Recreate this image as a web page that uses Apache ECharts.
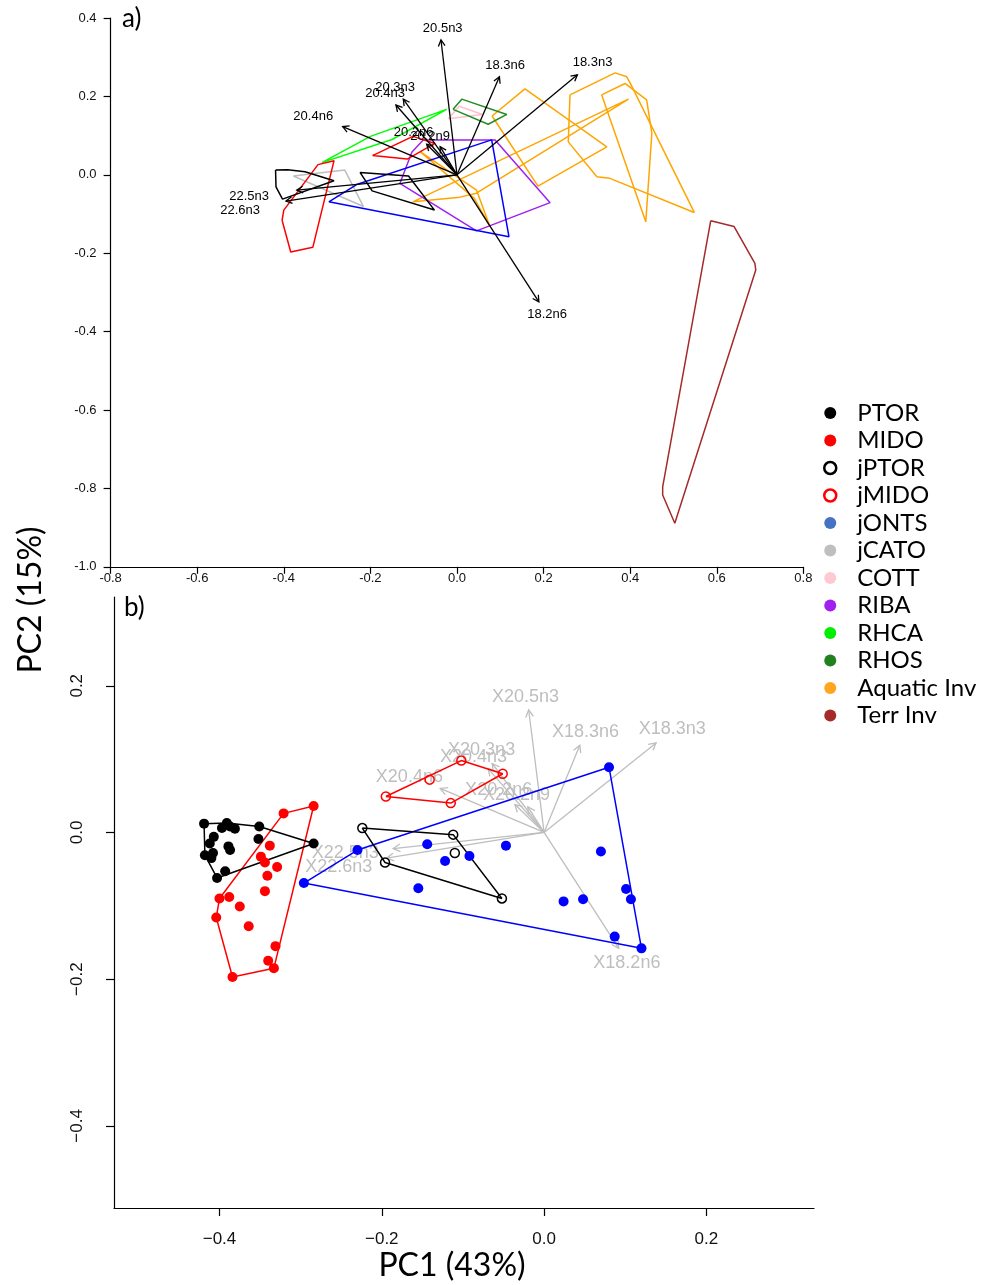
<!DOCTYPE html>
<html>
<head>
<meta charset="utf-8">
<script src="https://cdn.jsdelivr.net/npm/echarts@6/dist/echarts.min.js"></script>
<style>
html,body{margin:0;padding:0;background:#fff}
#chart{width:982px;height:1285px}
</style>
</head>
<body>
<div id="chart"></div>
<script>
// ---- fatty-acid loadings: arrow tips and label anchors ----
const loadingNamesA = ['20.5n3','18.3n6','18.3n3','20.3n3','20.4n3','20.4n6','20.2n6','20.2n9','22.5n3','22.6n3','18.2n6'];
const loadingNamesB = ['X20.5n3','X18.3n6','X18.3n3','X20.3n3','X20.4n3','X20.4n6','X20.2n6','X20.2n9','X22.5n3','X22.6n3','X18.2n6'];
const loadingsA = [[-0.037,0.344],[0.098,0.250],[0.278,0.255],[-0.124,0.193],[-0.141,0.178],[-0.264,0.123],[-0.070,0.078],[-0.039,0.072],[-0.370,-0.039],[-0.395,-0.067],[0.189,-0.324]];
const labelPosA = [[-0.033,0.373],[0.111,0.280],[0.313,0.286],[-0.143,0.223],[-0.166,0.208],[-0.332,0.150],[-0.100,0.107],[-0.062,0.099],[-0.480,-0.054],[-0.501,-0.090],[0.208,-0.355]];
const loadingsB = [[-0.019,0.167],[0.044,0.119],[0.138,0.122],[-0.064,0.094],[-0.069,0.087],[-0.128,0.060],[-0.036,0.038],[-0.020,0.035],[-0.186,-0.022],[-0.194,-0.035],[0.092,-0.158]];
const labelPosB = [[-0.023,0.185],[0.051,0.137],[0.158,0.141],[-0.077,0.112],[-0.087,0.103],[-0.166,0.076],[-0.056,0.058],[-0.034,0.051],[-0.245,-0.028],[-0.253,-0.047],[0.102,-0.178]];

// ---- fish scores (PC1, PC2) ----
const ptorPts = [[-0.419,0.012],[-0.391,0.013],[-0.387,0.008],[-0.381,0.005],[-0.397,0.006],[-0.351,0.008],[-0.407,-0.006],[-0.412,-0.015],[-0.352,-0.009],[-0.389,-0.019],[-0.387,-0.024],[-0.418,-0.031],[-0.408,-0.028],[-0.410,-0.035],[-0.393,-0.053],[-0.403,-0.062],[-0.284,-0.015]];
const midoPts = [[-0.321,0.026],[-0.284,0.036],[-0.338,-0.018],[-0.344,-0.041],[-0.349,-0.033],[-0.329,-0.047],[-0.341,-0.059],[-0.344,-0.080],[-0.400,-0.090],[-0.388,-0.088],[-0.375,-0.101],[-0.404,-0.116],[-0.364,-0.128],[-0.331,-0.155],[-0.340,-0.175],[-0.333,-0.185],[-0.384,-0.197]];
const jptorPts = [[-0.224,0.006],[-0.112,-0.003],[-0.110,-0.028],[-0.196,-0.041],[-0.052,-0.090]];
const jmidoPts = [[-0.195,0.049],[-0.141,0.072],[-0.102,0.098],[-0.051,0.080],[-0.115,0.040]];
const jontsPts = [[0.080,0.089],[-0.296,-0.069],[0.120,-0.158],[-0.230,-0.024],[-0.144,-0.016],[-0.122,-0.039],[-0.092,-0.032],[-0.047,-0.018],[-0.155,-0.076],[0.070,-0.026],[0.024,-0.094],[0.048,-0.091],[0.101,-0.077],[0.107,-0.091],[0.087,-0.142]];

// ---- hull outlines of the other groups (panel a) ----
const jcatoHull = [[-0.378,-0.003],[-0.259,0.012],[-0.216,-0.081]];
const cottHull = [[-0.020,0.143],[0.005,0.175],[0.059,0.154]];
const ribaHull = [[-0.078,0.089],[0.088,0.089],[0.215,-0.071],[0.045,-0.143],[-0.132,-0.022],[-0.104,0.058]];
const rhcaHull = [[-0.312,0.031],[-0.200,0.098],[-0.024,0.167],[-0.150,0.090]];
const rhosHull = [[-0.009,0.167],[0.011,0.193],[0.115,0.154],[0.072,0.129]];
const aquaticHull1 = [[0.261,0.204],[0.365,0.260],[0.392,0.250],[0.400,0.234],[0.548,-0.096],[0.353,-0.009],[0.323,-0.005],[0.257,0.084]];
const aquaticHull2 = [[0.334,0.204],[0.388,0.233],[0.438,0.191],[0.450,0.106],[0.436,-0.120]];
const aquaticHull3 = [[0.081,0.150],[0.157,0.219],[0.346,0.071],[0.187,-0.029]];
const aquaticHull4 = [[-0.102,-0.069],[0.396,0.193],[0.045,-0.047],[0.007,-0.057]];
const aquaticHull5 = [[-0.085,0.059],[0.045,-0.039],[0.076,-0.132],[0.040,-0.060]];
const terrHull = [[0.586,-0.117],[0.640,-0.132],[0.688,-0.226],[0.690,-0.243],[0.503,-0.889],[0.475,-0.817],[0.475,-0.796]];

// ---- axis ticks ----
const ticksBx = [-0.4,-0.2,0,0.2];
const ticksBy = [-0.4,-0.2,0,0.2];

// ---- helpers ----
function convexHull(pts) {
  const p = pts.slice().sort((a, b) => a[0] - b[0] || a[1] - b[1]);
  const cross = (o, a, b) => (a[0] - o[0]) * (b[1] - o[1]) - (a[1] - o[1]) * (b[0] - o[0]);
  const lower = [];
  for (const q of p) {
    while (lower.length >= 2 && cross(lower[lower.length - 2], lower[lower.length - 1], q) <= 0) lower.pop();
    lower.push(q);
  }
  const upper = [];
  for (let i = p.length - 1; i >= 0; i--) {
    const q = p[i];
    while (upper.length >= 2 && cross(upper[upper.length - 2], upper[upper.length - 1], q) <= 0) upper.pop();
    upper.push(q);
  }
  upper.pop(); lower.pop();
  return lower.concat(upper);
}
const ring = poly => poly.concat([poly[0]]);

function hull(name, poly, color, gi) {
  return {
    name, type: 'line', xAxisIndex: gi, yAxisIndex: gi,
    data: ring(poly), symbol: 'none', showSymbol: false,
    lineStyle: { color, width: 1.5 }, itemStyle: { color },
    silent: true, animation: false, z: 3
  };
}

function points(name, pts, color, open) {
  return {
    name, type: 'scatter', xAxisIndex: 1, yAxisIndex: 1, data: pts,
    symbol: 'circle', symbolSize: open ? 9 : 10,
    itemStyle: open ? { color: 'rgba(0,0,0,0)', borderColor: color, borderWidth: 1.5, opacity: 1 }
                    : { color, borderWidth: 0, opacity: 1 },
    silent: true, animation: false, z: 5
  };
}

function arrows(tips, labels, names, gi, color, font, head) {
  const data = tips.map((t, i) => [t[0], t[1], labels[i][0], labels[i][1]]);
  return {
    type: 'custom', xAxisIndex: gi, yAxisIndex: gi, data,
    encode: { x: [0, 2], y: [1, 3] }, silent: true, animation: false, z: gi === 0 ? 6 : 2,
    renderItem(params, api) {
      const o = api.coord([0, 0]);
      const t = api.coord([api.value(0), api.value(1)]);
      const l = api.coord([api.value(2), api.value(3)]);
      const ang = Math.atan2(t[1] - o[1], t[0] - o[0]);
      const a1 = ang + Math.PI - 0.5, a2 = ang + Math.PI + 0.5;
      return {
        type: 'group',
        children: [
          { type: 'line', shape: { x1: o[0], y1: o[1], x2: t[0], y2: t[1] }, style: { stroke: color, lineWidth: 1.3 } },
          { type: 'polyline', shape: { points: [[t[0] + head * Math.cos(a1), t[1] + head * Math.sin(a1)], t, [t[0] + head * Math.cos(a2), t[1] + head * Math.sin(a2)]] },
            style: { stroke: color, fill: null, lineWidth: 1.3 } },
          { type: 'text', x: l[0], y: l[1], style: { text: names[params.dataIndex], fill: color, font, align: 'center', verticalAlign: 'middle' } }
        ]
      };
    }
  };
}

const tickFont = 'Liberation Sans, Arial, sans-serif';
const fmtA = v => Number(v).toFixed(1);
const fmtB = v => (v < -1e-9 ? '\u2212' : '') + Math.abs(v).toFixed(1);

const chart = echarts.init(document.getElementById('chart'), null, { renderer: 'canvas' });

const option = {
  backgroundColor: '#fff',
  animation: false,
  grid: [
    { left: 110.6, top: 18, width: 692.8, height: 548.8, containLabel: false },
    { left: 114, top: 597, width: 700, height: 611, containLabel: false }
  ],
  xAxis: [
    { type: 'value', gridIndex: 0, min: -0.8, max: 0.8, interval: 0.2,
      axisLine: { show: true, onZero: false, lineStyle: { color: '#000', width: 1.2 } },
      axisTick: { show: true, length: 7, lineStyle: { color: '#000', width: 1.2 } },
      axisLabel: { show: true, margin: 5, color: '#111', fontSize: 13, fontFamily: tickFont, formatter: fmtA, showMinLabel: true, showMaxLabel: true },
      splitLine: { show: false } },
    { type: 'value', gridIndex: 1, min: -0.530, max: 0.3326,
      axisLine: { show: true, onZero: false, lineStyle: { color: '#000', width: 1.2 } },
      axisTick: { show: true, length: 8, customValues: ticksBx, lineStyle: { color: '#000', width: 1.2 } },
      axisLabel: { show: true, margin: 23, color: '#111', fontSize: 17, fontFamily: tickFont, customValues: ticksBx, formatter: fmtB },
      splitLine: { show: false } }
  ],
  yAxis: [
    { type: 'value', gridIndex: 0, min: -1.0, max: 0.4, interval: 0.2,
      axisLine: { show: true, onZero: false, lineStyle: { color: '#000', width: 1.2 } },
      axisTick: { show: true, length: 7, lineStyle: { color: '#000', width: 1.2 } },
      axisLabel: { show: true, margin: 14, color: '#111', fontSize: 13, fontFamily: tickFont, formatter: fmtA, showMinLabel: true, showMaxLabel: true },
      splitLine: { show: false } },
    { type: 'value', gridIndex: 1, min: -0.512, max: 0.321,
      axisLine: { show: true, onZero: false, lineStyle: { color: '#000', width: 1.2 } },
      axisTick: { show: true, length: 8, customValues: ticksBy, lineStyle: { color: '#000', width: 1.2 } },
      axisLabel: { show: true, margin: 28, rotate: 90, color: '#111', fontSize: 17, fontFamily: tickFont, customValues: ticksBy, formatter: fmtB },
      splitLine: { show: false } }
  ],
  legend: {
    orient: 'vertical', left: 818, top: 395,
    itemWidth: 44, itemHeight: 12, itemGap: 1.5,
    selectedMode: false,
    textStyle: { fontFamily: 'Lato, sans-serif', fontSize: 24, lineHeight: 26, color: '#000' },
    data: [
      { name: 'PTOR', icon: 'circle', itemStyle: { color: '#000', borderWidth: 0 } },
      { name: 'MIDO', icon: 'circle', itemStyle: { color: '#ff0000', borderWidth: 0 } },
      { name: 'jPTOR', icon: 'circle', itemStyle: { color: '#fff', borderColor: '#000', borderWidth: 2.5 } },
      { name: 'jMIDO', icon: 'circle', itemStyle: { color: '#fff', borderColor: '#ff0000', borderWidth: 2.5 } },
      { name: 'jONTS', icon: 'circle', itemStyle: { color: '#4472c4', borderWidth: 0 } },
      { name: 'jCATO', icon: 'circle', itemStyle: { color: '#bfbfbf', borderWidth: 0 } },
      { name: 'COTT', icon: 'circle', itemStyle: { color: '#ffc9d2', borderWidth: 0 } },
      { name: 'RIBA', icon: 'circle', itemStyle: { color: '#a020f0', borderWidth: 0 } },
      { name: 'RHCA', icon: 'circle', itemStyle: { color: '#00ee00', borderWidth: 0 } },
      { name: 'RHOS', icon: 'circle', itemStyle: { color: '#1f821f', borderWidth: 0 } },
      { name: 'Aquatic Inv', icon: 'circle', itemStyle: { color: '#ffa520', borderWidth: 0 } },
      { name: 'Terr Inv', icon: 'circle', itemStyle: { color: '#a52a2a', borderWidth: 0 } }
    ]
  },
  graphic: [
    { type: 'text', left: 122, top: 6, style: { text: 'a)', font: '26px Lato, sans-serif', fill: '#000' } },
    { type: 'text', left: 124, top: 595, style: { text: 'b)', font: '26px Lato, sans-serif', fill: '#000' } },
    { type: 'text', x: 31, y: 600, rotation: Math.PI / 2,
      style: { text: 'PC2 (15%)', font: '32px Lato, sans-serif', fill: '#000', align: 'center', verticalAlign: 'middle' } },
    { type: 'text', x: 452, y: 1266,
      style: { text: 'PC1 (43%)', font: '32px Lato, sans-serif', fill: '#000', align: 'center', verticalAlign: 'middle' } }
  ],
  series: [
    // panel a: group outlines
    hull('Terr Inv', terrHull, '#a52a2a', 0),
    hull('Aquatic Inv', aquaticHull1, '#ffa500', 0),
    hull('Aquatic Inv', aquaticHull2, '#ffa500', 0),
    hull('Aquatic Inv', aquaticHull3, '#ffa500', 0),
    hull('Aquatic Inv', aquaticHull4, '#ffa500', 0),
    hull('Aquatic Inv', aquaticHull5, '#ffa500', 0),
    hull('COTT', cottHull, '#ffc0cb', 0),
    hull('RHOS', rhosHull, '#228b22', 0),
    hull('RHCA', rhcaHull, '#00ff00', 0),
    hull('RIBA', ribaHull, '#a020f0', 0),
    hull('jCATO', jcatoHull, '#bebebe', 0),
    hull('jONTS', convexHull(jontsPts), '#0000ff', 0),
    hull('jPTOR', convexHull(jptorPts), '#000000', 0),
    hull('jMIDO', convexHull(jmidoPts), '#ff0000', 0),
    hull('MIDO', convexHull(midoPts), '#ff0000', 0),
    hull('PTOR', convexHull(ptorPts), '#000000', 0),
    arrows(loadingsA, labelPosA, loadingNamesA, 0, '#000', '13px Liberation Sans, Arial, sans-serif', 7),
    // panel b: loadings, hulls and scores
    arrows(loadingsB, labelPosB, loadingNamesB, 1, '#bebebe', '18px Liberation Sans, Arial, sans-serif', 8),
    hull('jONTS', convexHull(jontsPts), '#0000ff', 1),
    hull('jPTOR', convexHull(jptorPts), '#000000', 1),
    hull('jMIDO', convexHull(jmidoPts), '#ff0000', 1),
    hull('MIDO', convexHull(midoPts), '#ff0000', 1),
    hull('PTOR', convexHull(ptorPts), '#000000', 1),
    points('jONTS', jontsPts, '#0000ff', false),
    points('MIDO', midoPts, '#ff0000', false),
    points('PTOR', ptorPts, '#000000', false),
    points('jPTOR', jptorPts, '#000000', true),
    points('jMIDO', jmidoPts, '#ff0000', true)
  ]
};

chart.setOption(option);
</script>
</body>
</html>
